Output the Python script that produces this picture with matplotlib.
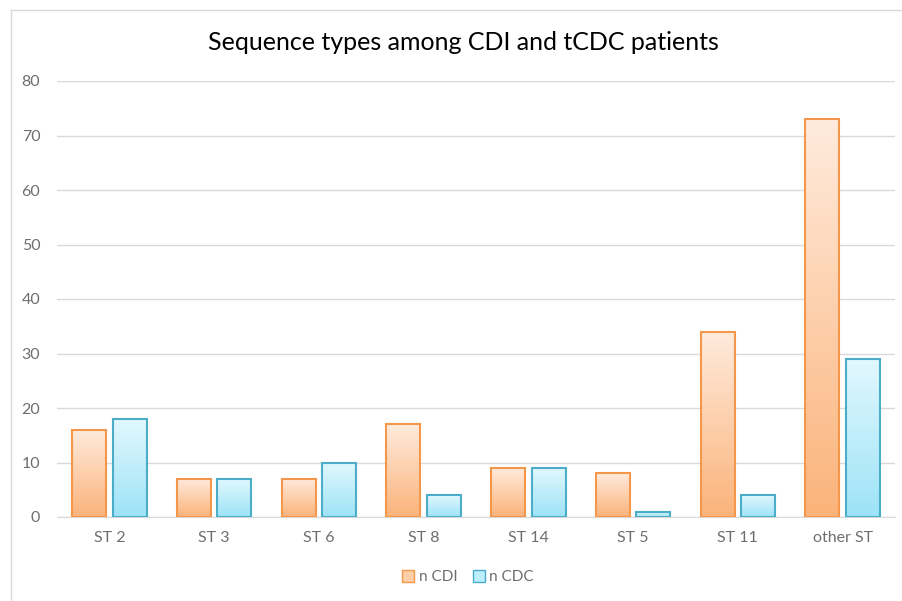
import numpy as np
import matplotlib.pyplot as plt
from matplotlib.colors import LinearSegmentedColormap
from matplotlib.lines import Line2D
from matplotlib.patches import Patch

categories = ["ST 2", "ST 3", "ST 6", "ST 8", "ST 14", "ST 5", "ST 11", "other ST"]
n_cdi = [16, 7, 7, 17, 9, 8, 34, 73]
n_cdc = [18, 7, 10, 4, 9, 1, 4, 29]

plt.rcParams['font.family'] = ['Lato', 'DejaVu Sans']

fig = plt.figure(figsize=(9.03, 6.01), dpi=100)
ax = fig.add_axes([57 / 903, 1 - 517 / 601, 838 / 903, 436 / 601])

cmap_cdi = LinearSegmentedColormap.from_list("cdi", ["#FBB37A", "#FFEBDD"])
cmap_cdc = LinearSegmentedColormap.from_list("cdc", ["#9DE3F7", "#E2F8FE"])

x = np.arange(len(categories))
w = 0.325
gap = 0.06
grad = np.linspace(0, 1, 256).reshape(-1, 1)


def gradient_bars(pos, vals, cmap, edge):
    bars = ax.bar(pos, vals, width=w, facecolor="none", edgecolor=edge,
                  linewidth=1.5, zorder=3)
    for b in bars:
        x0, y0 = b.get_x(), b.get_y()
        im = ax.imshow(grad, cmap=cmap, origin="lower", aspect="auto",
                       extent=[x0, x0 + b.get_width(), y0, y0 + b.get_height()],
                       zorder=2)
        im.set_clip_path(b)
    return bars


gradient_bars(x - (w + gap) / 2, n_cdi, cmap_cdi, "#F5974A")
gradient_bars(x + (w + gap) / 2, n_cdc, cmap_cdc, "#4BADC8")

ax.set_xlim(-0.5, len(categories) - 0.5)
ax.set_ylim(0, 80)
ax.set_yticks(range(0, 81, 10))
ax.set_xticks(x, categories)
ax.yaxis.grid(True, color="#D9D9D9", linewidth=1)
ax.set_axisbelow(True)
for s in ["top", "right", "left"]:
    ax.spines[s].set_visible(False)
ax.spines["bottom"].set_color("#D9D9D9")
ax.tick_params(length=0, colors="#6E6E6E", labelsize=11.5)
ax.tick_params(axis="y", pad=12)
ax.tick_params(axis="x", pad=10)

fig.text(463 / 903, 1 - 43 / 601, "Sequence types among CDI and tCDC patients",
         ha="center", va="center", fontsize=18, color="#000000")

handles = [Patch(facecolor="#FDCFA8", edgecolor="#F5974A", label="n CDI"),
           Patch(facecolor="#BDEEFB", edgecolor="#4BADC8", label="n CDC")]
fig.legend(handles=handles, loc="center", bbox_to_anchor=(468 / 903, 1 - 577 / 601),
           ncol=2, frameon=False, fontsize=11, labelcolor="#6E6E6E",
           handlelength=0.8, handleheight=0.8, handletextpad=0.3, columnspacing=1.0)

fig.add_artist(Line2D([11 / 903, 11 / 903], [0, 1 - 10 / 601], color="#D9D9D9",
                      linewidth=1, transform=fig.transFigure))
fig.add_artist(Line2D([11 / 903, 1], [1 - 10 / 601, 1 - 10 / 601], color="#D9D9D9",
                      linewidth=1, transform=fig.transFigure))

fig.savefig("out.png", dpi=100)
